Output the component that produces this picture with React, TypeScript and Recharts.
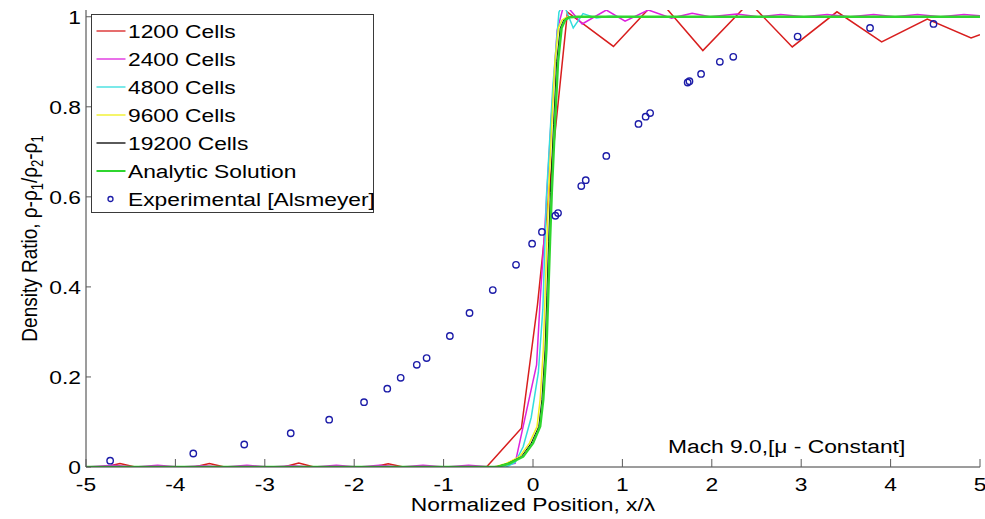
import React from 'react'
import { ComposedChart, Line, Scatter, XAxis, YAxis, Legend, Label } from 'recharts'

const FONT = '"Liberation Sans", Arial, Helvetica, sans-serif'
const STRETCH = 1.2
const FRAME = '#3a3a3a'
const TICK = '#5a5a5a'

const xTicks = [-5, -4, -3, -2, -1, 0, 1, 2, 3, 4, 5]
const yTicks = [0, 0.2, 0.4, 0.6, 0.8, 1]

// 1200 cells
const c1200X = [-5, -4.79, -4.62, -4.45, -3.79, -3.62, -3.45, -2.79, -2.62, -2.45, -1.79, -1.62, -1.45, -0.52, -0.13, 0.05, 0.385, 0.9, 1.4, 1.9, 2.42, 2.9, 3.4, 3.9, 4.41, 4.9, 5]
const c1200Y = [0, 0, 0.008, 0, 0, 0.008, 0, 0, 0.009, 0, 0, 0.007, 0, 0, 0.086, 0.36, 1.01, 0.934, 1.04, 0.925, 1.032, 0.933, 1.011, 0.944, 0.995, 0.953, 0.96]

// 2400 cells
const c2400X = [-5, -4.7, -4.45, -4.2, -3.95, -3.7, -3.45, -3.2, -2.95, -2.7, -2.45, -2.2, -1.95, -1.72, -1.48, -1.23, -0.98, -0.72, -0.45, -0.2, -0.07, 0.04, 0.08, 0.135, 0.2, 0.27, 0.35, 0.55, 0.82, 1.03, 1.29, 1.55, 1.78, 1.98, 2.28, 2.52, 2.77, 3.03, 3.29, 3.55, 3.81, 4.05, 4.3, 4.56, 4.82, 5]
const c2400Y = [0, 0.004, 0, 0.004, 0, 0.003, 0, 0.004, 0, 0.003, 0, 0.004, 0, 0.004, 0, 0.004, 0, 0.004, 0, 0.008, 0.127, 0.227, 0.37, 0.54, 0.76, 0.97, 1.03, 0.984, 1.015, 0.99, 1.015, 0.997, 1.008, 1.0, 1.006, 1.0, 1.005, 1.0, 1.005, 1.0, 1.005, 1.0, 1.005, 1.0, 1.005, 1.002]

// 4800 cells
const c4800X = [-5, -0.3, -0.2, -0.11, -0.02, 0.06, 0.11, 0.15, 0.22, 0.29, 0.34, 0.45, 0.56, 0.71, 0.85, 1, 5]
const c4800Y = [0, 0, 0.01, 0.045, 0.11, 0.21, 0.35, 0.6, 0.84, 1.01, 1.03, 0.975, 1.007, 0.997, 1.001, 1, 1]

// 9600 cells
const c9600X = [-5, -0.43, -0.3, -0.15, -0.04, 0.045, 0.08, 0.115, 0.135, 0.155, 0.175, 0.21, 0.245, 0.285, 0.325, 0.375, 0.45, 5]
const c9600Y = [0, 0, 0.008, 0.023, 0.053, 0.09, 0.15, 0.26, 0.38, 0.5, 0.61, 0.76, 0.9, 0.975, 0.993, 0.999, 1, 1]

// 19200 cells
const c19200X = [-5, -0.42, -0.28, -0.13, -0.02, 0.065, 0.1, 0.135, 0.155, 0.175, 0.195, 0.23, 0.265, 0.305, 0.345, 0.395, 0.48, 5]
const c19200Y = [0, 0, 0.008, 0.023, 0.053, 0.09, 0.15, 0.26, 0.38, 0.5, 0.61, 0.76, 0.9, 0.975, 0.993, 0.999, 1, 1]

// analytic
const analyticX = [-5, -0.4, -0.26, -0.11, 0, 0.08, 0.115, 0.15, 0.17, 0.19, 0.21, 0.245, 0.28, 0.32, 0.36, 0.41, 0.5, 5]
const analyticY = [0, 0, 0.008, 0.023, 0.053, 0.09, 0.15, 0.26, 0.38, 0.5, 0.61, 0.76, 0.9, 0.975, 0.993, 0.999, 1, 1]

// Alsmeyer experiment
const expX = [-4.73, -3.8, -3.23, -2.71, -2.28, -1.89, -1.63, -1.48, -1.3, -1.19, -0.93, -0.71, -0.45, -0.19, -0.01, 0.1, 0.25, 0.28, 0.54, 0.59, 0.82, 1.18, 1.26, 1.31, 1.73, 1.75, 1.88, 2.09, 2.24, 2.96, 3.77, 4.48]
const expY = [0.014, 0.03, 0.05, 0.075, 0.105, 0.144, 0.174, 0.198, 0.227, 0.242, 0.291, 0.342, 0.393, 0.449, 0.496, 0.522, 0.558, 0.564, 0.624, 0.637, 0.691, 0.762, 0.778, 0.786, 0.854, 0.857, 0.873, 0.9, 0.911, 0.956, 0.975, 0.984]

const pts = (xs: number[], ys: number[]) => xs.map((x, i) => ({ x, y: ys[i] }))

const lines = [
  { name: '1200 Cells', color: '#d81e1e', width: 1.5, data: pts(c1200X, c1200Y) },
  { name: '2400 Cells', color: '#dd22dd', width: 1.5, data: pts(c2400X, c2400Y) },
  { name: '4800 Cells', color: '#33dddd', width: 1.5, data: pts(c4800X, c4800Y) },
  { name: '9600 Cells', color: '#f0f01a', width: 1.5, data: pts(c9600X, c9600Y) },
  { name: '19200 Cells', color: '#000000', width: 1, data: pts(c19200X, c19200Y) },
  { name: 'Analytic Solution', color: '#2fd62f', width: 2.5, data: pts(analyticX, analyticY) },
]
const expName = 'Experimental [Alsmeyer]'
const expColor = '#1c1ca8'
const expData = pts(expX, expY)

const BottomTick = ({ x, y, payload }: any) => (
  <g>
    <line x1={x} y1={y} x2={x} y2={y - 8} stroke={TICK} />
    <text
      transform={`translate(${x},${y + 24}) scale(${STRETCH},1)`}
      textAnchor="middle"
      fontSize={19}
      fontFamily={FONT}
      fill="#000"
    >
      {payload.value}
    </text>
  </g>
)

const LeftTick = ({ x, y, payload }: any) => (
  <g>
    <line x1={x} y1={y} x2={x + 5} y2={y} stroke={TICK} />
    <text
      transform={`translate(${x - 5},${y + 7}) scale(${STRETCH},1)`}
      textAnchor="end"
      fontSize={19}
      fontFamily={FONT}
      fill="#000"
    >
      {payload.value}
    </text>
  </g>
)

const TopTick = ({ x, y }: any) => <line x1={x} y1={y} x2={x} y2={y + 7} stroke={TICK} />
const RightTick = ({ x, y }: any) => <line x1={x} y1={y} x2={x - 5} y2={y} stroke={TICK} />

const XTitle = ({ viewBox }: any) => (
  <text
    transform={`translate(${viewBox.x + viewBox.width / 2},${viewBox.y + 44}) scale(${STRETCH},1)`}
    textAnchor="middle"
    fontSize={19}
    fontFamily={FONT}
    fill="#000"
  >
    Normalized Position, x/λ
  </text>
)

const MachNote = ({ viewBox }: any) => (
  <text
    transform={`translate(${viewBox.x + 582},${viewBox.y - 14}) scale(${STRETCH},1)`}
    fontSize={19}
    fontFamily={FONT}
    fill="#000"
  >
    Mach 9.0,[μ - Constant]
  </text>
)

const YTitle = ({ viewBox }: any) => (
  <text
    transform={`translate(37,${viewBox.y + viewBox.height / 2}) scale(${STRETCH},1) rotate(-90)`}
    textAnchor="middle"
    fontSize={19}
    fontFamily={FONT}
    fill="#000"
  >
    Density Ratio, ρ-ρ
    <tspan fontSize={13} dy={5}>1</tspan>
    <tspan dy={-5}>/ρ</tspan>
    <tspan fontSize={13} dy={5}>2</tspan>
    <tspan dy={-5}>-ρ</tspan>
    <tspan fontSize={13} dy={5}>1</tspan>
  </text>
)

const LEGEND_W = 284

const LegendBox = () => (
  <svg width={LEGEND_W} height={200} style={{ display: 'block' }}>
    <rect x={0.5} y={0.5} width={LEGEND_W - 2} height={198} fill="#fff" stroke={FRAME} />
    {lines.map((s, i) => {
      const cy = 17 + i * 28
      return (
        <g key={s.name}>
          <line x1={5.5} x2={34.5} y1={cy} y2={cy} stroke={s.color} strokeWidth={s.width > 2 ? 2 : 1.3} />
          <text transform={`translate(37,${cy + 7}) scale(${STRETCH},1)`} fontSize={19} fontFamily={FONT} fill="#000">
            {s.name}
          </text>
        </g>
      )
    })}
    <circle cx={19.5} cy={185} r={2.5} fill="none" stroke={expColor} strokeWidth={1.3} />
    <text transform={`translate(37,192) scale(${STRETCH},1)`} fontSize={19} fontFamily={FONT} fill="#000">
      {expName}
    </text>
  </svg>
)

export default function App() {
  return (
    <div style={{ position: 'absolute', left: 0, top: 0, background: '#fff' }}>
      <ComposedChart width={985} height={519} margin={{ top: 10, right: 5, bottom: 0, left: 0 }}>
        <XAxis
          dataKey="x"
          type="number"
          domain={[-5, 5]}
          allowDataOverflow
          ticks={xTicks}
          interval={0}
          height={52}
          tickSize={0}
          tickMargin={0}
          tickLine={false}
          axisLine={{ stroke: FRAME }}
          tick={<BottomTick />}
        >
          <Label content={<XTitle />} />
          <Label content={<MachNote />} />
        </XAxis>
        <XAxis
          xAxisId="top"
          orientation="top"
          type="number"
          domain={[-5, 5]}
          allowDataOverflow
          ticks={xTicks}
          interval={0}
          height={0}
          tickSize={0}
          tickMargin={0}
          tickLine={false}
          axisLine={{ stroke: FRAME }}
          tick={<TopTick />}
        />
        <YAxis
          dataKey="y"
          type="number"
          domain={[0, 1.015]}
          allowDataOverflow
          ticks={yTicks}
          interval={0}
          width={86}
          tickSize={0}
          tickMargin={0}
          tickLine={false}
          axisLine={{ stroke: FRAME }}
          tick={<LeftTick />}
        >
          <Label content={<YTitle />} />
        </YAxis>
        <YAxis
          yAxisId="right"
          orientation="right"
          type="number"
          domain={[0, 1.015]}
          allowDataOverflow
          ticks={yTicks}
          interval={0}
          width={0}
          tickSize={0}
          tickMargin={0}
          tickLine={false}
          axisLine={{ stroke: FRAME }}
          tick={<RightTick />}
        />
        {lines.map((s) => (
          <Line
            key={s.name}
            name={s.name}
            data={s.data}
            dataKey="y"
            type="linear"
            stroke={s.color}
            strokeWidth={s.width}
            dot={false}
            activeDot={false}
            isAnimationActive={false}
          />
        ))}
        <Scatter
          name={expName}
          data={expData}
          fill={expColor}
          isAnimationActive={false}
          shape={(p: any) => <circle cx={p.cx} cy={p.cy} r={3.2} fill="none" stroke={expColor} strokeWidth={1.4} />}
        />
        <Legend
          layout="vertical"
          align="center"
          verticalAlign="middle"
          content={<LegendBox />}
          wrapperStyle={{ position: 'absolute', left: 90.5, top: 13.5, width: LEGEND_W, height: 200 }}
        />
      </ComposedChart>
    </div>
  )
}
